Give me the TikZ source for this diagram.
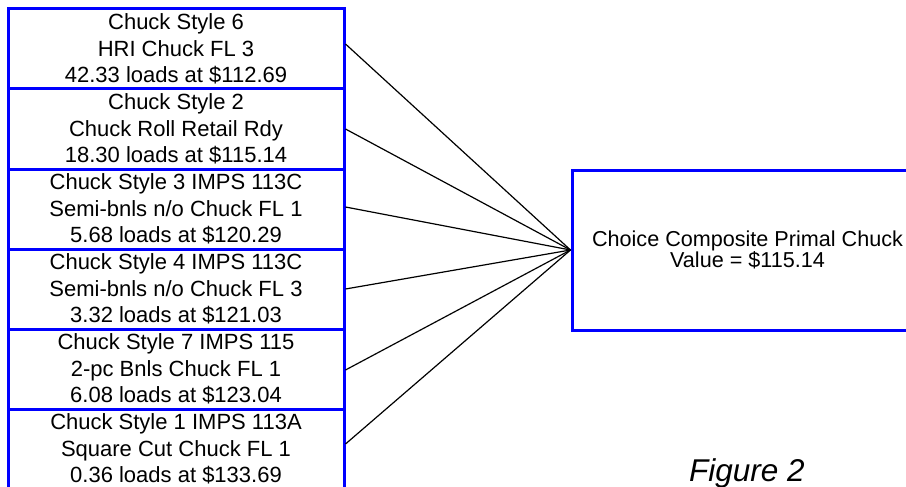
\documentclass[tikz,border=0pt]{standalone}
\usepackage{fontspec}
\setmainfont{Liberation Sans}
\begin{document}
\begin{tikzpicture}[x=1pt,y=-1pt,
  leftbox/.style={draw=blue, line width=3pt, minimum width=336pt, minimum height=80pt,
    inner sep=0pt, align=center, font=\fontsize{22}{26.5}\selectfont},
  rightbox/.style={draw=blue, line width=3pt, minimum width=351pt, minimum height=160pt,
    inner sep=0pt, align=center, font=\fontsize{21.6}{21}\selectfont},
  conn/.style={draw=black, line width=1.2pt}]
\clip (0,0) rectangle (906,487);
\fill[white] (0,0) rectangle (906,487);
\node[leftbox] (b1) at (176,49) {Chuck Style 6\\HRI Chuck FL 3\\42.33 loads at \$112.69};
\node[leftbox] (b2) at (176,129) {Chuck Style 2\\Chuck Roll Retail Rdy\\18.30 loads at \$115.14};
\node[leftbox] (b3) at (176,209) {Chuck Style 3 IMPS 113C\\Semi-bnls n/o Chuck FL 1\\5.68 loads at \$120.29};
\node[leftbox] (b4) at (176,289) {Chuck Style 4 IMPS 113C\\Semi-bnls n/o Chuck FL 3\\3.32 loads at \$121.03};
\node[leftbox] (b5) at (176,369) {Chuck Style 7 IMPS 115\\2-pc Bnls Chuck FL 1\\6.08 loads at \$123.04};
\node[leftbox] (b6) at (176,449) {Chuck Style 1 IMPS 113A\\Square Cut Chuck FL 1\\0.36 loads at \$133.69};
\node[rightbox] (r) at (747.5,250) {Choice Composite Primal Chuck\\Value = \$115.14};
\draw[conn] ([yshift=5pt]b1.east) -- (r.west);
\draw[conn] (b2.east) -- (r.west);
\draw[conn] ([yshift=2pt]b3.east) -- (r.west);
\draw[conn] (b4.east) -- (r.west);
\draw[conn] ([yshift=-1pt]b5.east) -- (r.west);
\draw[conn] ([yshift=5pt]b6.east) -- (r.west);
\node[anchor=base west, inner sep=0pt, font=\fontsize{31.5}{36}\selectfont\itshape] (fig) at (689,481) {Figure 2};
\end{tikzpicture}
\end{document}
